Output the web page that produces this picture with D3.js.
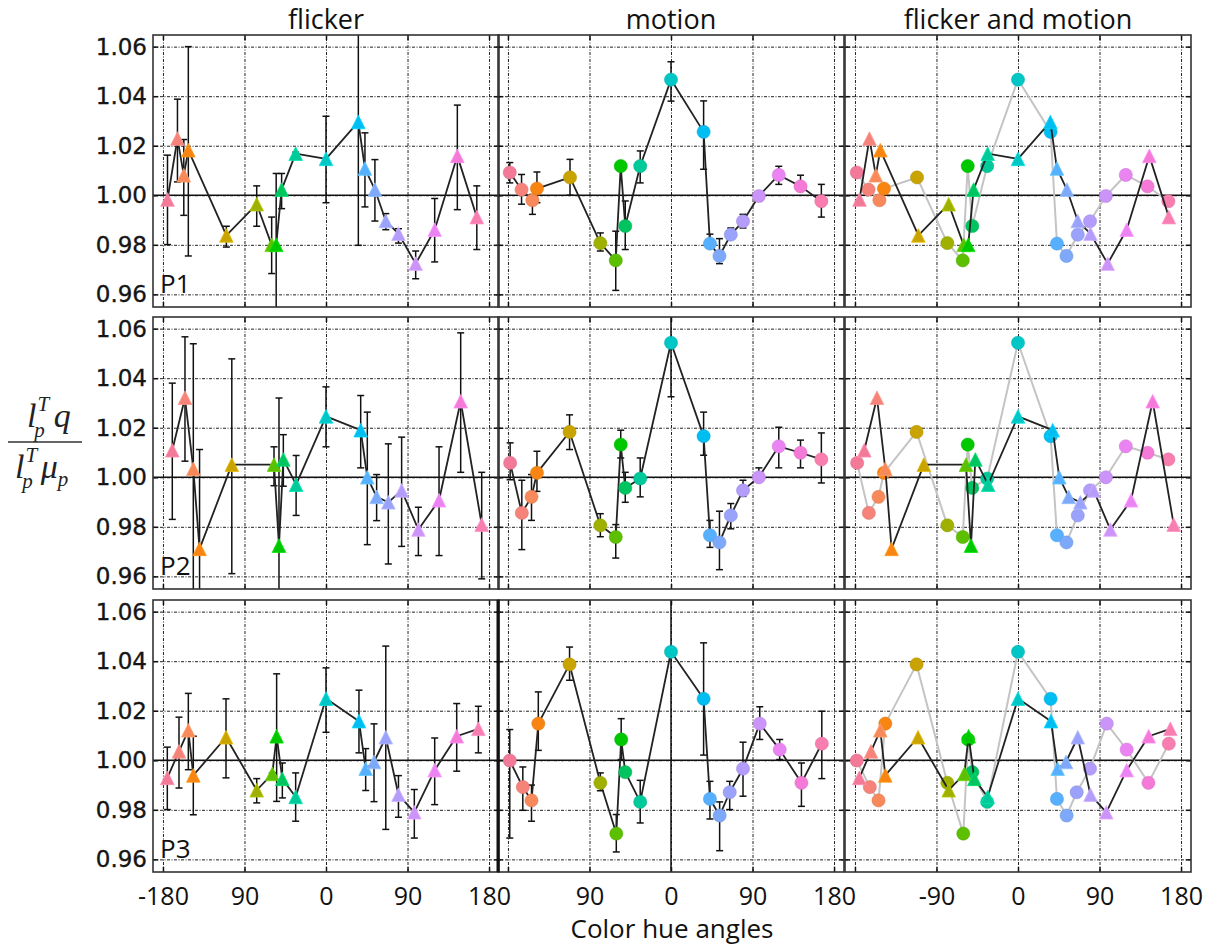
<!DOCTYPE html>
<html>
<head>
<meta charset="utf-8">
<script src="https://cdn.jsdelivr.net/npm/d3@7"></script>
<style>
  body { margin: 0; background: #fff; }
  svg { display: block; }
</style>
</head>
<body>
<div id="chart"></div>
<script>
// hue colour of each stimulus (index into this list)
var hueColors = ["#f27a98", "#f5837a", "#f8895a", "#f88512", "#c9a300", "#9fb000", "#5cbf00",
  "#00c800", "#00c460", "#00c99a", "#00c6c6", "#00bdf2", "#56b0ff", "#7ea9fb", "#9aa2fb",
  "#b49cfb", "#cb94f8", "#ea84f2", "#f57ad8", "#f97eb0"];

var columns = ["flicker", "motion", "flicker and motion"];
var participants = ["P1", "P2", "P3"];
var xTicks = [-180, -90, 0, 90, 180];
var xTickLabels = [
  ["-180", "90", "0", "90", "180"],
  ["", "90", "0", "90", "180"],
  ["", "-90", "0", "90", "180"]
];
var yTicks = [0.96, 0.98, 1.00, 1.02, 1.04, 1.06];

// P1
var p1FlickerAngle = [-175, -164, -157, -152, -110, -76.5, -60, -55, -49, -33.5, 0, 35.7, 43, 54, 66, 80, 99, 120, 145, 166.5];
var p1FlickerValue = [0.9983, 1.0229, 1.0081, 1.0182, 0.9838, 0.9964, 0.9800, 0.9800, 1.0023, 1.0168, 1.0147, 1.0296, 1.0108, 1.0023, 0.9896, 0.9845, 0.9724, 0.9861, 1.0159, 0.9912];
var p1FlickerLo = [0.9801, 1.0054, 0.9919, 0.9755, 0.9791, 0.9875, 0.9684, 0.9546, 0.9946, 1.0162, 0.9970, 0.9798, 0.9953, 0.9896, 0.9861, 0.9807, 0.9663, 0.9731, 0.9942, 0.9781];
var p1FlickerHi = [1.0162, 1.0388, 1.0225, 1.0600, 0.9875, 1.0038, 0.9912, 1.0088, 1.0088, 1.0174, 1.0319, 1.0700, 1.0252, 1.0144, 0.9926, 0.9865, 0.9775, 0.9987, 1.0364, 1.0038];
var p1FlickerHue = [0, 1, 2, 3, 4, 5, 6, 7, 8, 9, 10, 11, 12, 13, 14, 15, 16, 17, 18, 19];

var p1MotionAngle = [-178, -165, -153, -148, -111.5, -78, -61, -55.5, -50.5, -34, 0, 36, 43, 53.5, 66, 79.5, 97, 119, 143, 166];
var p1MotionValue = [1.0092, 1.0023, 0.9980, 1.0027, 1.0072, 0.9807, 0.9737, 1.0118, 0.9876, 1.0118, 1.0467, 1.0256, 0.9805, 0.9755, 0.9841, 0.9895, 0.9997, 1.0082, 1.0036, 0.9976];
var p1MotionLo = [1.0050, 0.9964, 0.9923, 0.9970, 1.0000, 0.9775, 0.9616, 1.0110, 0.9781, 1.0050, 1.0380, 1.0105, 0.9790, 0.9724, 0.9828, 0.9868, 0.9976, 1.0044, 1.0016, 0.9912];
var p1MotionHi = [1.0132, 1.0084, 1.0003, 1.0094, 1.0145, 0.9848, 0.9855, 1.0126, 0.9977, 1.0179, 1.0539, 1.0381, 0.9843, 0.9825, 0.9868, 0.9923, 1.0003, 1.0117, 1.0081, 1.0044];
var p1MotionHue = [0, 1, 2, 3, 4, 5, 6, 7, 8, 9, 10, 11, 12, 13, 14, 15, 16, 17, 18, 19];

// P2
var p2FlickerAngle = [-169.7, -155.7, -146.5, -139.6, -104, -57.4, -51.9, -47.1, -33, 0, 38.3, 45.6, 55.9, 68.8, 83.5, 102, 124.8, 148.7, 171.9];
var p2FlickerValue = [1.0109, 1.0321, 1.0034, 0.9711, 1.0051, 1.0051, 0.9724, 1.0072, 0.9970, 1.0246, 1.0190, 1.0000, 0.9921, 0.9899, 0.9947, 0.9789, 0.9907, 1.0307, 0.9809];
var p2FlickerLo = [0.9830, 1.0065, 0.9400, 0.9400, 0.9611, 0.9966, 0.9400, 0.9964, 0.9846, 1.0123, 1.0038, 0.9728, 0.9825, 0.9650, 0.9721, 0.9684, 0.9684, 1.0020, 0.9590];
var p2FlickerHi = [1.0380, 1.0567, 1.0539, 1.0112, 1.0478, 1.0123, 1.0320, 1.0172, 1.0088, 1.0365, 1.0330, 1.0263, 1.0011, 1.0135, 1.0162, 0.9879, 1.0123, 1.0583, 1.0020];
var p2FlickerHue = [0, 1, 2, 3, 4, 6, 7, 8, 9, 10, 11, 12, 13, 14, 15, 16, 17, 18, 19];

var p2MotionAngle = [-177.6, -164.7, -154, -148, -112, -78, -61, -55.5, -50.5, -34, 0, 36, 43, 53.5, 66, 79.5, 97, 119, 143, 166];
var p2MotionValue = [1.0058, 0.9856, 0.9921, 1.0018, 1.0183, 0.9806, 0.9759, 1.0132, 0.9957, 0.9995, 1.0543, 1.0166, 0.9766, 0.9737, 0.9846, 0.9947, 1.0000, 1.0125, 1.0099, 1.0072];
var p2MotionLo = [0.9990, 0.9708, 0.9826, 0.9943, 1.0112, 0.9760, 0.9674, 1.0078, 0.9899, 0.9921, 1.0325, 1.0089, 0.9717, 0.9627, 0.9792, 0.9923, 0.9984, 1.0038, 1.0038, 0.9977];
var p2MotionHi = [1.0139, 0.9988, 1.0011, 1.0105, 1.0252, 0.9853, 0.9809, 1.0190, 1.0020, 1.0078, 1.0700, 1.0263, 0.9826, 0.9863, 0.9894, 0.9988, 1.0038, 1.0202, 1.0150, 1.0179];
var p2MotionHue = [0, 1, 2, 3, 4, 5, 6, 7, 8, 9, 10, 11, 12, 13, 14, 15, 16, 17, 18, 19];

// P3
var p3FlickerAngle = [-175.2, -162.3, -152, -146.5, -110.4, -76.5, -59.3, -54.5, -48.2, -33.5, 0, 36.4, 43.8, 53, 66, 80, 97.5, 120, 144.3, 168.2];
var p3FlickerValue = [0.9929, 1.0036, 1.0121, 0.9939, 1.0093, 0.9879, 0.9945, 1.0097, 0.9925, 0.9852, 1.0249, 1.0158, 0.9966, 0.9993, 1.0093, 0.9861, 0.9790, 0.9960, 1.0097, 1.0127];
var p3FlickerLo = [0.9801, 0.9888, 0.9962, 0.9780, 0.9929, 0.9828, 0.9940, 0.9834, 0.9848, 0.9754, 1.0113, 1.0030, 0.9878, 0.9833, 0.9721, 0.9770, 0.9686, 0.9821, 0.9956, 1.0030];
var p3FlickerHi = [1.0053, 1.0174, 1.0270, 1.0097, 1.0248, 0.9926, 0.9950, 1.0349, 0.9989, 0.9949, 1.0373, 1.0283, 1.0047, 1.0147, 1.0461, 0.9938, 0.9882, 1.0090, 1.0229, 1.0218];
var p3FlickerHue = [0, 1, 2, 3, 4, 5, 6, 7, 8, 9, 10, 11, 12, 13, 14, 15, 16, 17, 18, 19];

var p3MotionAngle = [-178, -163.6, -154, -146.5, -112, -78, -60.4, -55, -50.5, -34, 0, 36, 43, 53.7, 64.8, 79.5, 98, 120, 144, 166.5];
var p3MotionValue = [0.9999, 0.9892, 0.9838, 1.0148, 1.0387, 0.9909, 0.9704, 1.0084, 0.9952, 0.9832, 1.0438, 1.0248, 0.9844, 0.9777, 0.9871, 0.9966, 1.0148, 1.0043, 0.9909, 1.0067];
var p3MotionLo = [0.9686, 0.9798, 0.9754, 1.0040, 1.0323, 0.9877, 0.9630, 1.0003, 0.9944, 0.9747, 0.8000, 1.0021, 0.9763, 0.9635, 0.9801, 0.9855, 1.0084, 1.0003, 0.9814, 0.9926];
var p3MotionHi = [1.0124, 0.9973, 0.9900, 1.0276, 1.0457, 0.9949, 0.9781, 1.0168, 0.9960, 0.9919, 1.2000, 1.0474, 0.9915, 0.9832, 0.9915, 1.0073, 1.0216, 1.0084, 0.9989, 1.0198];
var p3MotionHue = [0, 1, 2, 3, 4, 5, 6, 7, 8, 9, 10, 11, 12, 13, 14, 15, 16, 17, 18, 19];

function series(angle, value, lo, hi, hue) {
  return angle.map(function (a, i) {
    return {x: a, y: value[i], lo: lo[i], hi: hi[i], color: hueColors[hue[i]]};
  });
}

var rows = [
  {flicker: series(p1FlickerAngle, p1FlickerValue, p1FlickerLo, p1FlickerHi, p1FlickerHue),
   motion: series(p1MotionAngle, p1MotionValue, p1MotionLo, p1MotionHi, p1MotionHue)},
  {flicker: series(p2FlickerAngle, p2FlickerValue, p2FlickerLo, p2FlickerHi, p2FlickerHue),
   motion: series(p2MotionAngle, p2MotionValue, p2MotionLo, p2MotionHi, p2MotionHue)},
  {flicker: series(p3FlickerAngle, p3FlickerValue, p3FlickerLo, p3FlickerHi, p3FlickerHue),
   motion: series(p3MotionAngle, p3MotionValue, p3MotionLo, p3MotionHi, p3MotionHue)}
];

var width = 1207, height = 946;
var panelX = [153, 498, 845], panelY = [35, 317, 600];
var W = 346, H = 272;
var sansFont = "'Open Sans', sans-serif";

var x = d3.scaleLinear().domain([-191, 191]).range([0, W]);
var y = d3.scaleLinear().domain([0.9549, 1.0647]).range([H, 0]);

var svg = d3.select("#chart").append("svg")
  .attr("width", width)
  .attr("height", height);

var line = d3.line()
  .x(function (d) { return x(d.x); })
  .y(function (d) { return y(d.y); });

// matplotlib-like '^' marker, centred on its box
function triangle(a) {
  return "M0," + (-a) + "L" + a + "," + a + "L" + (-a) + "," + a + "Z";
}

function drawErrorBars(g, data) {
  var eb = g.append("g").selectAll("g").data(data).enter().append("g");
  eb.append("line")
    .attr("x1", function (d) { return x(d.x); })
    .attr("x2", function (d) { return x(d.x); })
    .attr("y1", function (d) { return y(d.lo); })
    .attr("y2", function (d) { return y(d.hi); })
    .attr("stroke", "#111").attr("stroke-width", 1.5);
  [function (d) { return d.lo; }, function (d) { return d.hi; }].forEach(function (f) {
    eb.append("line")
      .attr("x1", function (d) { return x(d.x) - 3.5; })
      .attr("x2", function (d) { return x(d.x) + 3.5; })
      .attr("y1", function (d) { return y(f(d)); })
      .attr("y2", function (d) { return y(f(d)); })
      .attr("stroke", "#111").attr("stroke-width", 1.5);
  });
}

function drawLine(g, data, color, w) {
  g.append("path")
    .datum(data)
    .attr("d", line)
    .attr("fill", "none")
    .attr("stroke", color)
    .attr("stroke-width", w)
    .attr("stroke-linejoin", "round");
}

function drawTriangles(g, data) {
  g.append("g").selectAll("path").data(data).enter().append("path")
    .attr("d", triangle(6.8))
    .attr("transform", function (d) { return "translate(" + x(d.x) + "," + y(d.y) + ")"; })
    .attr("fill", function (d) { return d.color; })
    .attr("stroke", function (d) { return d3.color(d.color).brighter(0.4); })
    .attr("stroke-width", 0.8);
}

function drawCircles(g, data) {
  g.append("g").selectAll("circle").data(data).enter().append("circle")
    .attr("cx", function (d) { return x(d.x); })
    .attr("cy", function (d) { return y(d.y); })
    .attr("r", 6.6)
    .attr("fill", function (d) { return d.color; })
    .attr("stroke", function (d) { return d3.color(d.color).darker(0.4); })
    .attr("stroke-opacity", 0.6)
    .attr("stroke-width", 0.8);
}

rows.forEach(function (row, r) {
  columns.forEach(function (col, c) {
    var g = svg.append("g")
      .attr("transform", "translate(" + panelX[c] + "," + panelY[r] + ")");

    var clipId = "clip-" + r + "-" + c;
    g.append("clipPath").attr("id", clipId)
      .append("rect").attr("width", W).attr("height", H);

    // dotted grid
    var grid = g.append("g").attr("class", "grid");
    grid.append("g")
      .attr("transform", "translate(0," + H + ")")
      .call(d3.axisBottom(x).tickValues(xTicks).tickSize(-H).tickFormat(""));
    grid.append("g")
      .call(d3.axisLeft(y).tickValues(yTicks).tickSize(-W).tickFormat(""));
    grid.selectAll(".domain").remove();
    grid.selectAll("line")
      .attr("stroke", "#222")
      .attr("stroke-width", 1)
      .attr("stroke-dasharray", "3,1.5,1,1.5");

    // reference line at 1
    g.append("line")
      .attr("x1", 0).attr("x2", W)
      .attr("y1", y(1)).attr("y2", y(1))
      .attr("stroke", "#111").attr("stroke-width", 1.4);

    var plot = g.append("g").attr("clip-path", "url(#" + clipId + ")");
    if (c === 0) {
      drawErrorBars(plot, row.flicker);
      drawLine(plot, row.flicker, "#222", 1.8);
      drawTriangles(plot, row.flicker);
    } else if (c === 1) {
      drawErrorBars(plot, row.motion);
      drawLine(plot, row.motion, "#222", 1.8);
      drawCircles(plot, row.motion);
    } else {
      drawLine(plot, row.motion, "#c4c4c4", 2);
      drawCircles(plot, row.motion);
      drawLine(plot, row.flicker, "#222", 1.8);
      drawTriangles(plot, row.flicker);
    }

    // inward ticks on all four sides
    var ticks = g.append("g").attr("class", "ticks");
    ticks.append("g").call(d3.axisLeft(y).tickValues(yTicks).tickSize(-5).tickFormat(""));
    ticks.append("g").attr("transform", "translate(" + W + ",0)")
      .call(d3.axisRight(y).tickValues(yTicks).tickSize(-5).tickFormat(""));
    ticks.append("g").call(d3.axisTop(x).tickValues(xTicks).tickSize(-5).tickFormat(""));
    ticks.append("g").attr("transform", "translate(0," + H + ")")
      .call(d3.axisBottom(x).tickValues(xTicks).tickSize(-5).tickFormat(""));
    ticks.selectAll(".domain").remove();
    ticks.selectAll("line").attr("stroke", "#111").attr("stroke-width", 1.5);

    g.append("rect")
      .attr("width", W).attr("height", H)
      .attr("fill", "none")
      .attr("stroke", "#333")
      .attr("stroke-width", 1.6);

    if (c === 0) {
      var ya = g.append("g")
        .call(d3.axisLeft(y).tickValues(yTicks).tickSize(0).tickPadding(6)
          .tickFormat(d3.format(".2f")));
      ya.select(".domain").remove();
      ya.selectAll("text")
        .attr("font-family", "'DejaVu Sans', sans-serif")
        .attr("font-size", 23)
        .attr("fill", "#151515")
        .attr("stroke", "#151515")
        .attr("stroke-width", 0.35);

      g.append("text")
        .attr("x", 7).attr("y", 258)
        .attr("font-family", sansFont)
        .attr("font-size", 26)
        .attr("fill", "#111")
        .text(participants[r]);
    }

    if (r === 0) {
      svg.append("text")
        .attr("x", panelX[c] + W / 2)
        .attr("y", 29)
        .attr("text-anchor", "middle")
        .attr("font-family", sansFont)
        .attr("font-size", 27)
        .attr("fill", "#111")
        .text(col);
    }

    if (r === 2) {
      var xa = g.append("g")
        .attr("transform", "translate(0," + H + ")")
        .call(d3.axisBottom(x).tickValues(xTicks).tickSize(0)
          .tickFormat(function (d, i) { return xTickLabels[c][i]; }));
      xa.select(".domain").remove();
      xa.selectAll("text")
        .attr("y", 33).attr("dy", 0)
        .attr("font-family", sansFont)
        .attr("font-size", 25)
        .attr("fill", "#111");
    }
  });
});

// heavier divider between flicker and motion in the last row
svg.append("line")
  .attr("x1", panelX[1]).attr("x2", panelX[1])
  .attr("y1", panelY[2]).attr("y2", panelY[2] + H)
  .attr("stroke", "#111").attr("stroke-width", 3);

svg.append("text")
  .attr("x", (panelX[0] + panelX[2] + W) / 2)
  .attr("y", 938)
  .attr("text-anchor", "middle")
  .attr("font-family", sansFont)
  .attr("font-size", 26)
  .attr("fill", "#111")
  .text("Color hue angles");

// y label: l_p^T q / l_p^T mu_p, each part one text with tspans
var mathFont = "'Liberation Serif', 'DejaVu Serif', serif";
var yLabel = svg.append("g")
  .attr("font-family", mathFont)
  .attr("font-style", "italic")
  .attr("fill", "#222");

var num = yLabel.append("text").attr("x", 27).attr("y", 427);
num.append("tspan").attr("font-size", 34).text("l");
num.append("tspan").attr("font-size", 21).attr("dy", -16).attr("dx", 1).text("T");
num.append("tspan").attr("font-size", 21).attr("dy", 26).attr("dx", -15).text("p");
num.append("tspan").attr("font-size", 34).attr("dy", -10).attr("dx", 9).text("q");

var den = yLabel.append("text").attr("x", 15).attr("y", 478);
den.append("tspan").attr("font-size", 34).text("l");
den.append("tspan").attr("font-size", 21).attr("dy", -16).attr("dx", 1).text("T");
den.append("tspan").attr("font-size", 21).attr("dy", 26).attr("dx", -15).text("p");
den.append("tspan").attr("font-size", 34).attr("dy", -10).attr("dx", 8).text("\u03bc");
den.append("tspan").attr("font-size", 21).attr("dy", 8).text("p");

yLabel.append("line")
  .attr("x1", 8).attr("x2", 82)
  .attr("y1", 442).attr("y2", 442)
  .attr("stroke", "#333").attr("stroke-width", 1.5);
</script>
</body>
</html>
